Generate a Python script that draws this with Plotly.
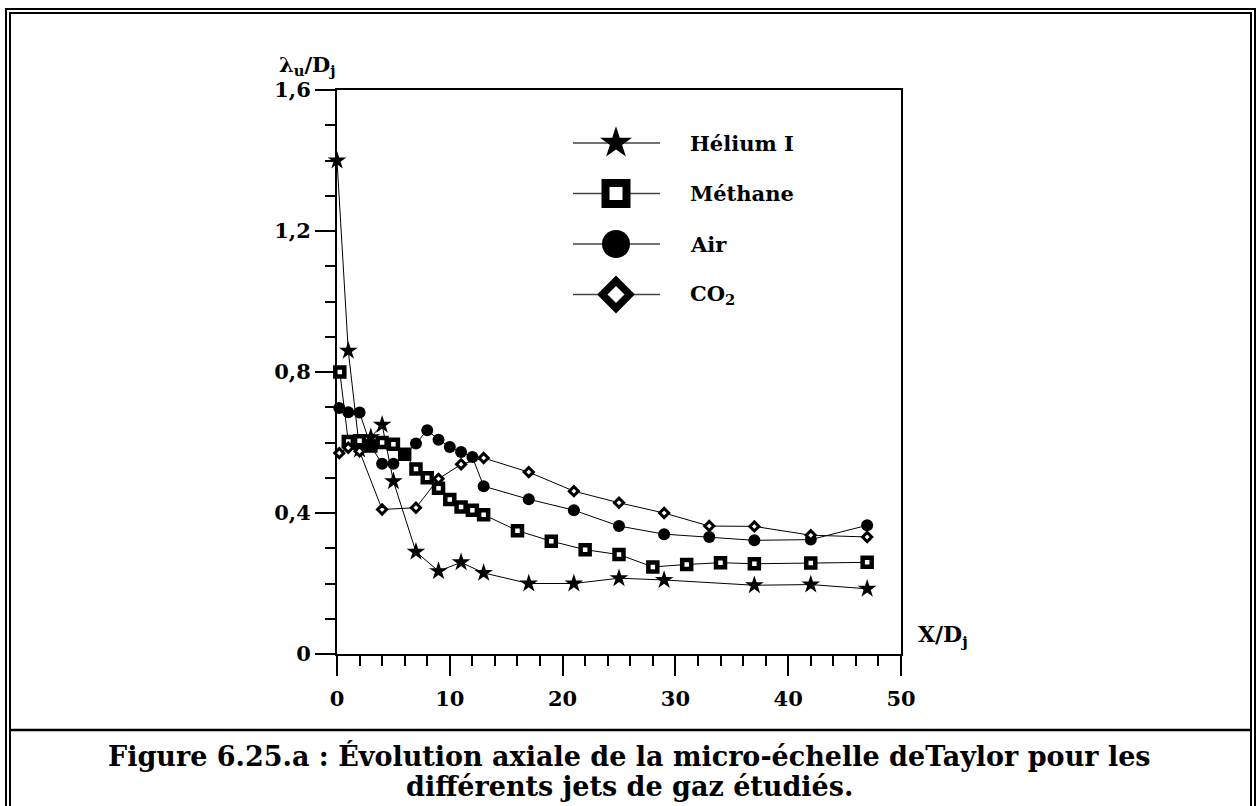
import plotly.graph_objects as go

# ---- data ----
HELIUM_X = [0, 1, 2, 3, 4, 5, 7, 9, 11, 13, 17, 21, 25, 29, 37, 42, 47]
HELIUM_Y = [1.40, 0.86, 0.58, 0.615, 0.65, 0.49, 0.29, 0.235, 0.26, 0.23,
            0.20, 0.20, 0.215, 0.21, 0.195, 0.197, 0.185]

METHANE_X = [0.25, 1, 2, 3, 4, 5, 6, 7, 8, 9, 10, 11, 12, 13, 16, 19, 22,
             25, 28, 31, 34, 37, 42, 47]
METHANE_Y = [0.80, 0.603, 0.605, 0.59, 0.60, 0.595, 0.567, 0.525, 0.50, 0.47,
             0.438, 0.417, 0.408, 0.395, 0.35, 0.32, 0.296, 0.282, 0.247,
             0.254, 0.259, 0.256, 0.258, 0.26]

AIR_X = [0.2, 1, 2, 3, 4, 5, 6, 7, 8, 9, 10, 11, 12, 13, 17, 21, 25, 29,
         33, 37, 42, 47]
AIR_Y = [0.698, 0.686, 0.685, 0.59, 0.54, 0.54, 0.565, 0.597, 0.635, 0.608,
         0.587, 0.573, 0.559, 0.476, 0.439, 0.408, 0.363, 0.34, 0.332,
         0.3225, 0.3245, 0.365]

CO2_X = [0.2, 1, 2, 4, 7, 9, 11, 13, 17, 21, 25, 29, 33, 37, 42, 47]
CO2_Y = [0.57, 0.585, 0.575, 0.41, 0.415, 0.497, 0.538, 0.556, 0.516, 0.462,
         0.429, 0.40, 0.363, 0.362, 0.337, 0.332]

SERIES_NAMES = ["Hélium I", "Méthane", "Air", "CO<sub>2</sub>"]

Y_TICKS = [0, 0.4, 0.8, 1.2, 1.6]
Y_TICK_LABELS = ["0", "0,4", "0,8", "1,2", "1,6"]
X_TICKS = [0, 10, 20, 30, 40, 50]
X_TICK_LABELS = ["0", "10", "20", "30", "40", "50"]

CAPTION_1 = "Figure 6.25.a : Évolution axiale de la micro-échelle deTaylor pour les"
CAPTION_2 = "différents jets de gaz étudiés."

# ---- page geometry (pixels) ----
W, H = 1258, 806
L, R, T, B = 337, 357, 90, 152
PW = W - L - R
PH = H - T - B
FONT = "DejaVu Serif"


def px(x):
    return (x - L) / PW


def py(y):
    return (H - B - y) / PH


# marker styles
STYLES = [
    dict(symbol="star", color="black", line=dict(width=0)),
    dict(symbol="square", color="white", line=dict(color="black", width=4.5)),
    dict(symbol="circle", color="black", line=dict(width=0)),
    dict(symbol="diamond", color="white", line=dict(color="black", width=3)),
]
PLOT_SIZES = [14, 9, 12, 7]
LEG_SIZES = [24, 21, 28, 21]
LEG_LINE_W = [0, 8, 0, 7.4]

fig = go.Figure()

data = [(HELIUM_X, HELIUM_Y), (METHANE_X, METHANE_Y), (AIR_X, AIR_Y), (CO2_X, CO2_Y)]
for i, (xs, ys) in enumerate(data):
    st = dict(STYLES[i])
    fig.add_trace(go.Scatter(
        x=xs, y=ys, mode="lines+markers",
        line=dict(color="black", width=1),
        marker=dict(size=PLOT_SIZES[i], **st),
        showlegend=False, cliponaxis=False,
    ))

# ---- hand-drawn legend on an overlay pixel axis ----
LEG_X0, LEG_X1, LEG_XM, LEG_TX = 573, 660, 616, 688
LEG_Y0, LEG_DY = 143, 50.5
for i, name in enumerate(SERIES_NAMES):
    yrow = H - B - (LEG_Y0 + i * LEG_DY)
    fig.add_trace(go.Scatter(
        x=[LEG_X0 - L, LEG_X1 - L], y=[yrow, yrow], mode="lines",
        line=dict(color="#444", width=1.5),
        xaxis="x2", yaxis="y2", showlegend=False, hoverinfo="skip",
    ))
    st = dict(STYLES[i])
    if LEG_LINE_W[i]:
        st["line"] = dict(color="black", width=LEG_LINE_W[i])
    fig.add_trace(go.Scatter(
        x=[LEG_XM - L], y=[yrow], mode="markers",
        marker=dict(size=LEG_SIZES[i], **st),
        xaxis="x2", yaxis="y2", showlegend=False, hoverinfo="skip",
    ))
    fig.add_annotation(
        x=LEG_TX - L, y=yrow, xref="x2", yref="y2", text=name,
        showarrow=False, xanchor="left", yanchor="middle",
        font=dict(family=FONT, size=21, color="black", weight="bold"),
    )

axis_common = dict(
    showgrid=False, zeroline=False, showline=True, linecolor="black",
    linewidth=2, mirror=True, ticks="outside", ticklen=20, tickwidth=2,
    tickcolor="black",
    tickfont=dict(family=FONT, size=21, color="black", weight="bold"),
)

fig.update_layout(
    width=W, height=H,
    margin=dict(l=L, r=R, t=T, b=B),
    paper_bgcolor="white", plot_bgcolor="white",
    xaxis=dict(range=[0, 50], tickmode="array", tickvals=X_TICKS,
               ticktext=X_TICK_LABELS, ticklabelstandoff=5,
               minor=dict(dtick=2, tick0=0, ticks="outside", ticklen=10,
                          tickwidth=2, tickcolor="black"),
               **axis_common),
    yaxis=dict(range=[0, 1.6], tickmode="array", tickvals=Y_TICKS,
               ticktext=Y_TICK_LABELS,
               minor=dict(dtick=0.1, tick0=0, ticks="outside", ticklen=10,
                          tickwidth=2, tickcolor="black"),
               **axis_common),
    xaxis2=dict(range=[0, PW], overlaying="x", visible=False, fixedrange=True),
    yaxis2=dict(range=[0, PH], overlaying="y", visible=False, fixedrange=True),
)

# axis titles
fig.add_annotation(
    x=px(338), y=py(66), xref="paper", yref="paper",
    text="λ<sub>u</sub>/D<sub>j</sub>", showarrow=False,
    xanchor="right", yanchor="middle",
    font=dict(family=FONT, size=21, color="black", weight="bold"),
)
fig.add_annotation(
    x=px(916), y=py(636), xref="paper", yref="paper",
    text="X/D<sub>j</sub>", showarrow=False,
    xanchor="left", yanchor="middle",
    font=dict(family=FONT, size=22, color="black", weight="bold"),
)

# caption
for txt, yc in [(CAPTION_1, 756), (CAPTION_2, 786)]:
    fig.add_annotation(
        x=px(629), y=py(yc), xref="paper", yref="paper", text=txt,
        showarrow=False, xanchor="center", yanchor="middle",
        font=dict(family=FONT, size=27, color="black", weight="bold"),
    )

# double frame and separator
for x0, y0, x1 in [(6, 9, 1255), (10, 13, 1251)]:
    fig.add_shape(type="rect", xref="paper", yref="paper",
                  x0=px(x0), x1=px(x1), y0=py(y0), y1=py(H + 20),
                  line=dict(color="black", width=2), layer="above")
fig.add_shape(type="line", xref="paper", yref="paper",
              x0=px(10), x1=px(1251), y0=py(730), y1=py(730),
              line=dict(color="black", width=2.5), layer="above")

fig.write_html("out.html", config={"displayModeBar": False},
               post_script="document.body.style.margin='0px';")
